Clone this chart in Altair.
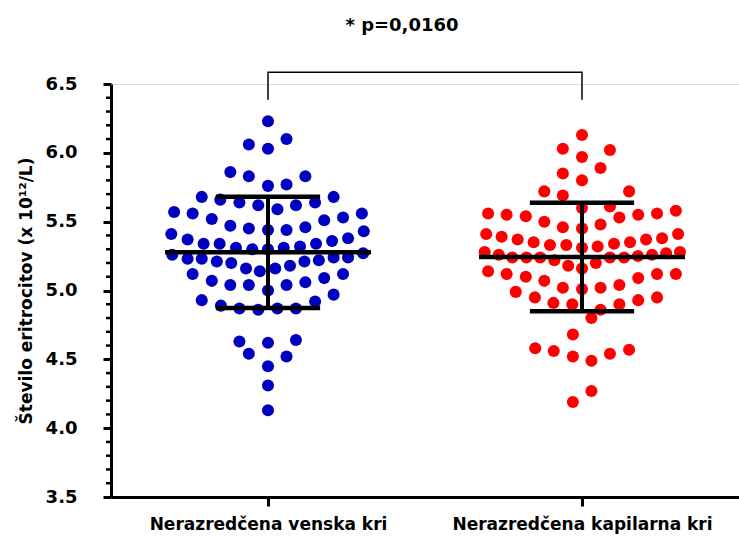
import altair as alt
import pandas as pd

groups = ["Nerazredčena venska kri", "Nerazredčena kapilarna kri"]
colors = ["#0000C0", "#FF0000"]

venska = [6.23, 6.10, 6.06, 6.03, 5.86, 5.83, 5.83, 5.77, 5.76,
          5.68, 5.68, 5.66, 5.64, 5.64, 5.62, 5.62, 5.59,
          5.57, 5.56, 5.56, 5.53, 5.52, 5.51, 5.47, 5.46, 5.45, 5.44, 5.44, 5.43, 5.41,
          5.38, 5.37, 5.36, 5.34, 5.34, 5.34, 5.32, 5.31, 5.31, 5.30, 5.30,
          5.27, 5.26, 5.24, 5.24, 5.23, 5.23, 5.22, 5.21, 5.21, 5.20, 5.18, 5.16, 5.16, 5.14,
          5.12, 5.12, 5.09, 5.07, 5.06, 5.04, 5.04, 5.04, 5.00,
          4.97, 4.93, 4.92, 4.89, 4.87, 4.87, 4.87, 4.86,
          4.64, 4.63, 4.62, 4.54, 4.52, 4.45, 4.31, 4.13]
venska_jitter = [0, .059, -.061, 0, -.120, -.061, .119, .059, 0,
                 -.211, .209, -.152, -.091, .150, -.031, .089, .030,
                 -.299, -.240, .299, .239, -.179, .179, -.120, .119, -.061, 0, .059, .305, -.308,
                 .255, -.256, .204, .153, -.205, -.154, .102, -.102, .050, -.050, 0,
                 .303, -.305, .255, .209, -.256, -.211, .162, -.163, .116, -.117, .070, -.070, .023, -.026,
                 .239, -.240, .179, -.179, .119, -.120, -.061, .059, 0,
                 .209, -.211, .150, -.150, -.091, .030, .089, -.031,
                 .089, -.091, 0, -.061, .059, 0, 0, 0]

kapilarna = [6.13, 6.03, 6.02, 5.97, 5.89, 5.85, 5.80, 5.72, 5.72, 5.69,
             5.61, 5.60, 5.58, 5.56, 5.56, 5.55, 5.55, 5.54, 5.53, 5.50, 5.48, 5.46, 5.45,
             5.41, 5.41, 5.39, 5.38, 5.37, 5.37, 5.35, 5.35, 5.34, 5.33, 5.33, 5.32, 5.31,
             5.28, 5.28, 5.27, 5.26, 5.26, 5.25, 5.24, 5.24, 5.24, 5.24, 5.24, 5.22, 5.20, 5.18, 5.16,
             5.14, 5.12, 5.12, 5.12, 5.10, 5.09, 5.07, 5.04, 5.02, 5.02, 5.01,
             4.99, 4.95, 4.95, 4.93, 4.91, 4.90, 4.90, 4.86, 4.80,
             4.68, 4.58, 4.57, 4.56, 4.54, 4.52, 4.49, 4.27, 4.19]
kapilarna_jitter = [0, -.061, .089, 0, .059, -.061, 0, -.120, .150, -.061,
                    .089, 0, .299, -.299, .239, -.240, .179, -.179, .119, -.120, .059, -.061, 0,
                    -.305, .306, -.256, .255, -.205, .204, -.154, .153, .102, -.102, -.050, .050, 0,
                    -.310, .312, .268, -.265, .223, .178, -.222, -.177, -.133, .089, .134, -.088, .044, -.044, 0,
                    -.299, .299, -.240, .239, -.179, .179, -.120, .119, -.061, .059, 0,
                    -.211, .239, -.150, .179, -.091, -.031, .119, .059, .030,
                    -.029, -.149, .150, -.090, .089, -.029, .030, .030, -.029]

y_major = [3.5, 4.0, 4.5, 5.0, 5.5, 6.0, 6.5]
y_minor = [3.6, 3.7, 3.8, 3.9, 4.1, 4.2, 4.3, 4.4, 4.6, 4.7, 4.8, 4.9,
           5.1, 5.2, 5.3, 5.4, 5.6, 5.7, 5.8, 5.9, 6.1, 6.2, 6.3, 6.4]
bracket_levels = [6.385, 6.585]
p_label = "* p=0,0160"
y_title = "Število eritrocitov (x 10¹²/L)"

FONT = "DejaVu Sans"

rows = []
for gi, (vals, jit) in enumerate([(venska, venska_jitter), (kapilarna, kapilarna_jitter)]):
    for v, j in zip(vals, jit):
        rows.append({"group": groups[gi], "gi": gi, "value": v, "pos": gi + 0.5 + j})
points_df = pd.DataFrame(rows)

bx = [0.5, 0.5, 1.5, 1.5]
by = [bracket_levels[0], bracket_levels[1], bracket_levels[1], bracket_levels[0]]
bracket_df = pd.DataFrame({"bx": bx, "by": by, "o": [0, 1, 2, 3]})
minor_df = pd.DataFrame({"m": y_minor})

xscale = alt.Scale(domain=[0, 2], nice=False, zero=False)
yscale = alt.Scale(domain=[3.5, 6.5], nice=False, zero=False)

label_expr = "datum.value < 1 ? '" + groups[0] + "' : '" + groups[1] + "'"

x_axis = alt.Axis(values=[0.5, 1.5], labelExpr=label_expr, title=None, grid=False,
                  tickSize=9, tickWidth=3, domainWidth=3, domainColor="black", tickColor="black",
                  labelFont=FONT, labelFontSize=17, labelFontWeight="bold", labelColor="black",
                  labelPadding=10, labelOverlap=False, labelBound=False, labelFlush=False,
                  labelLimit=0)
y_axis = alt.Axis(values=y_major, format=".1f", title=y_title, grid=False,
                  tickSize=8, tickWidth=3, domainWidth=3, domainColor="black", tickColor="black",
                  labelFont=FONT, labelFontSize=18, labelFontWeight="bold", labelColor="black",
                  labelPadding=26, titleFont=FONT, titleFontSize=17, titleFontWeight="bold",
                  titleColor="black", titleX=-85, titleBaseline="middle", labelFlush=False,
                  titleLimit=0)


def X(field):
    return alt.X(field, scale=xscale, axis=x_axis)


def Y(field):
    return alt.Y(field, scale=yscale, axis=y_axis)


points = alt.Chart(points_df).mark_circle(size=145, opacity=1).encode(
    x=X("pos:Q"),
    y=Y("value:Q"),
    color=alt.Color("group:N", scale=alt.Scale(domain=groups, range=colors), legend=None),
)

stats = alt.Chart(points_df).transform_aggregate(
    mean_v="mean(value)", sd_v="stdev(value)", groupby=["gi"]
).transform_calculate(
    xc="datum.gi + 0.5",
    xl="datum.gi + 0.5 - 0.328",
    xr="datum.gi + 0.5 + 0.328",
    cl="datum.gi + 0.5 - 0.166",
    cr="datum.gi + 0.5 + 0.166",
    lo="datum.mean_v - datum.sd_v",
    hi="datum.mean_v + datum.sd_v",
)

mean_rule = stats.mark_rule(color="black", strokeWidth=4.5).encode(
    x=X("xl:Q"), x2="xr:Q", y=Y("mean_v:Q"))
sd_rule = stats.mark_rule(color="black", strokeWidth=4).encode(
    x=X("xc:Q"), y=Y("lo:Q"), y2="hi:Q")
cap_hi = stats.mark_rule(color="black", strokeWidth=4.5).encode(
    x=X("cl:Q"), x2="cr:Q", y=Y("hi:Q"))
cap_lo = stats.mark_rule(color="black", strokeWidth=4.5).encode(
    x=X("cl:Q"), x2="cr:Q", y=Y("lo:Q"))

minor = alt.Chart(minor_df).mark_rule(color="black", strokeWidth=2.5, clip=False).encode(
    y=Y("m:Q"),
    x=alt.value(-5), x2=alt.value(0))

bracket = alt.Chart(bracket_df).mark_line(color="black", strokeWidth=1.5, clip=False).encode(
    x=X("bx:Q"),
    y=Y("by:Q"),
    order="o:Q")

chart = alt.layer(points, mean_rule, sd_rule, cap_hi, cap_lo, minor, bracket).properties(
    width=628, height=413,
    title=alt.TitleParams(p_label, frame="group", anchor="middle", dx=-23, offset=34,
                          font=FONT, fontSize=18, fontWeight="bold", color="black"),
    autosize=alt.AutoSizeParams(type="none"),
    padding={"left": 111, "top": 84, "right": 0, "bottom": 39},
).configure_view(strokeWidth=0).configure(background="white")

chart.save("out.html", embed_options={"renderer": "svg", "actions": False})
